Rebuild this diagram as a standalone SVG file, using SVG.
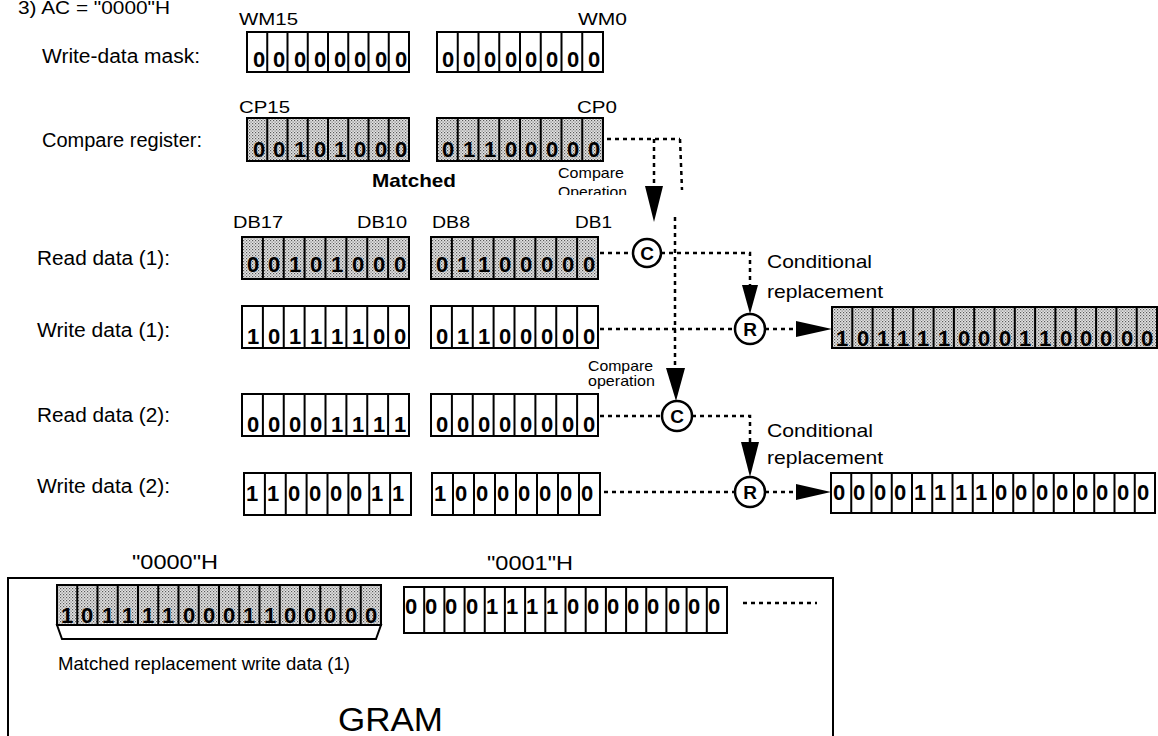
<svg xmlns="http://www.w3.org/2000/svg" width="1158" height="736" viewBox="0 0 1158 736">
<defs>
<pattern id="dots" width="3" height="3" patternUnits="userSpaceOnUse">
<rect width="3" height="3" fill="#e4e4e4"/>
<rect x="0" y="0" width="1.2" height="1.2" fill="#5a5a5a"/>
<rect x="1.5" y="1.5" width="1.2" height="1.2" fill="#7a7a7a"/>
</pattern>
<clipPath id="opclip"><rect x="540" y="160" width="120" height="35"/></clipPath>
<style>
.reg{fill:#fff;stroke:#000;stroke-width:2}
.sh{fill:url(#dots);stroke:#000;stroke-width:2}
.div{fill:none;stroke:#000;stroke-width:2}
.dig{font-family:"Liberation Sans",Arial,sans-serif;font-weight:bold;font-size:22px;text-anchor:middle;fill:#000}
.lbl{font-family:"Liberation Sans",Arial,sans-serif;font-size:20px;fill:#000}
.lbl19{font-family:"Liberation Sans",Arial,sans-serif;font-size:19px;fill:#000}
.sm{font-family:"Liberation Sans",Arial,sans-serif;font-size:15px;fill:#000}
.bit{font-family:"Liberation Sans",Arial,sans-serif;font-size:17px;fill:#000}
.dot{fill:none;stroke:#000;stroke-width:2.5;stroke-dasharray:4 4}
.circ{fill:#fff;stroke:#000;stroke-width:2.5}
.cl{font-family:"Liberation Sans",Arial,sans-serif;font-weight:bold;font-size:19px;text-anchor:middle}
.ah{fill:#000}
</style>
</defs>
<rect width="1158" height="736" fill="#fff"/>

<g id="labels">
<text class="lbl" style="font-size:18px" x="18" y="14" textLength="152" lengthAdjust="spacingAndGlyphs">3) AC = "0000"H</text>
<text class="lbl" x="42" y="63" textLength="158" lengthAdjust="spacingAndGlyphs">Write-data mask:</text>
<text class="lbl" x="42" y="147" textLength="160" lengthAdjust="spacingAndGlyphs">Compare register:</text>
<text class="lbl" x="37" y="265" textLength="133" lengthAdjust="spacingAndGlyphs">Read data (1):</text>
<text class="lbl" x="37" y="337" textLength="133" lengthAdjust="spacingAndGlyphs">Write data (1):</text>
<text class="lbl" x="37" y="422" textLength="133" lengthAdjust="spacingAndGlyphs">Read data (2):</text>
<text class="lbl" x="37" y="493" textLength="133" lengthAdjust="spacingAndGlyphs">Write data (2):</text>
<text class="bit" x="239" y="25" textLength="59" lengthAdjust="spacingAndGlyphs">WM15</text>
<text class="bit" x="578" y="25" textLength="49" lengthAdjust="spacingAndGlyphs">WM0</text>
<text class="bit" x="239" y="113" textLength="51" lengthAdjust="spacingAndGlyphs">CP15</text>
<text class="bit" x="577" y="113" textLength="40" lengthAdjust="spacingAndGlyphs">CP0</text>
<text class="bit" x="233" y="228" textLength="50" lengthAdjust="spacingAndGlyphs">DB17</text>
<text class="bit" x="357" y="228" textLength="50" lengthAdjust="spacingAndGlyphs">DB10</text>
<text class="bit" x="432" y="228" textLength="38" lengthAdjust="spacingAndGlyphs">DB8</text>
<text class="bit" x="575" y="228" textLength="37" lengthAdjust="spacingAndGlyphs">DB1</text>
<text x="372" y="187" style="font-family:'Liberation Sans',Arial,sans-serif;font-weight:bold;font-size:19px" textLength="84" lengthAdjust="spacingAndGlyphs">Matched</text>
<text class="sm" x="558" y="178" textLength="66" lengthAdjust="spacingAndGlyphs">Compare</text>
<text class="sm" x="558" y="197" textLength="69" lengthAdjust="spacingAndGlyphs" clip-path="url(#opclip)">Operation</text>
<text class="sm" x="588" y="371" textLength="65" lengthAdjust="spacingAndGlyphs">Compare</text>
<text class="sm" x="588" y="386" textLength="67" lengthAdjust="spacingAndGlyphs">operation</text>
<text class="lbl19" x="767" y="268" textLength="105" lengthAdjust="spacingAndGlyphs">Conditional</text>
<text class="lbl19" x="767" y="298" textLength="116" lengthAdjust="spacingAndGlyphs">replacement</text>
<text class="lbl19" x="767" y="437" textLength="106" lengthAdjust="spacingAndGlyphs">Conditional</text>
<text class="lbl19" x="767" y="464" textLength="116" lengthAdjust="spacingAndGlyphs">replacement</text>
</g>

<g id="mask-hi">
<rect class="reg" x="247" y="32" width="162" height="40"/>
<path class="div" d="M267.25 32V72M287.5 32V72M307.75 32V72M328 32V72M348.25 32V72M368.5 32V72M388.75 32V72"/>
<text class="dig" x="259 279 300 320 340 360 381 401" y="67">00000000</text>
</g>
<g id="mask-lo">
<rect class="reg" x="437" y="32" width="166" height="40"/>
<path class="div" d="M457.75 32V72M478.5 32V72M499.25 32V72M520 32V72M540.75 32V72M561.5 32V72M582.25 32V72"/>
<text class="dig" x="448 469 490 511 531 552 573 594" y="67">00000000</text>
</g>
<g id="cmp-hi">
<rect class="sh" x="247" y="118" width="162" height="43"/>
<path class="div" d="M267.25 118V161M287.5 118V161M307.75 118V161M328 118V161M348.25 118V161M368.5 118V161M388.75 118V161"/>
<text class="dig" x="259 279 300 320 340 360 381 401" y="157">00101000</text>
</g>
<g id="cmp-lo">
<rect class="sh" x="437" y="118" width="166" height="43"/>
<path class="div" d="M457.75 118V161M478.5 118V161M499.25 118V161M520 118V161M540.75 118V161M561.5 118V161M582.25 118V161"/>
<text class="dig" x="448 469 490 511 531 552 573 594" y="157">01100000</text>
</g>

<g id="rd1-hi">
<rect class="sh" x="242" y="237" width="167" height="42"/>
<path class="div" d="M262.9 237V279M283.75 237V279M304.6 237V279M325.5 237V279M346.4 237V279M367.25 237V279M388.1 237V279"/>
<text class="dig" x="253 274 295 316 337 358 379 400" y="272">00101000</text>
</g>
<g id="rd1-lo">
<rect class="sh" x="431" y="237" width="167" height="42"/>
<path class="div" d="M451.9 237V279M472.75 237V279M493.6 237V279M514.5 237V279M535.4 237V279M556.25 237V279M577.1 237V279"/>
<text class="dig" x="442 463 484 505 526 547 568 589" y="272">01100000</text>
</g>
<g id="wr1-hi">
<rect class="reg" x="242" y="306" width="167" height="42"/>
<path class="div" d="M262.9 306V348M283.75 306V348M304.6 306V348M325.5 306V348M346.4 306V348M367.25 306V348M388.1 306V348"/>
<text class="dig" x="253 274 295 316 337 358 379 400" y="344">10111100</text>
</g>
<g id="wr1-lo">
<rect class="reg" x="431" y="306" width="167" height="42"/>
<path class="div" d="M451.9 306V348M472.75 306V348M493.6 306V348M514.5 306V348M535.4 306V348M556.25 306V348M577.1 306V348"/>
<text class="dig" x="442 463 484 505 526 547 568 589" y="344">01100000</text>
</g>
<g id="rd2-hi">
<rect class="reg" x="242" y="394" width="167" height="42"/>
<path class="div" d="M262.9 394V436M283.75 394V436M304.6 394V436M325.5 394V436M346.4 394V436M367.25 394V436M388.1 394V436"/>
<text class="dig" x="253 274 295 316 337 358 379 400" y="432">00001111</text>
</g>
<g id="rd2-lo">
<rect class="reg" x="431" y="394" width="167" height="42"/>
<path class="div" d="M451.9 394V436M472.75 394V436M493.6 394V436M514.5 394V436M535.4 394V436M556.25 394V436M577.1 394V436"/>
<text class="dig" x="442 463 484 505 526 547 568 589" y="432">00000000</text>
</g>
<g id="wr2-hi">
<rect class="reg" x="244" y="473" width="167" height="42"/>
<path class="div" d="M264.9 473V515M285.75 473V515M306.6 473V515M327.5 473V515M348.4 473V515M369.25 473V515M390.1 473V515"/>
<text class="dig" x="252 273 294 315 336 356 377 398" y="501">11000011</text>
</g>
<g id="wr2-lo">
<rect class="reg" x="432" y="473" width="168" height="42"/>
<path class="div" d="M453 473V515M474 473V515M495 473V515M516 473V515M537 473V515M558 473V515M579 473V515"/>
<text class="dig" x="440 461 482 503 524 545 566 587" y="501">10000000</text>
</g>

<g id="result1">
<rect class="sh" x="832" y="307" width="325" height="41"/>
<path class="div" d="M852.3 307V348M872.6 307V348M892.9 307V348M913.25 307V348M933.6 307V348M953.9 307V348M974.2 307V348M994.5 307V348M1014.8 307V348M1035.1 307V348M1055.4 307V348M1075.75 307V348M1096.1 307V348M1116.4 307V348M1136.7 307V348"/>
<text class="dig" x="842 863 883 903 923 944 964 984 1005 1025 1045 1066 1086 1106 1127 1147" y="346">1011110001100000</text>
</g>
<g id="result2">
<rect class="reg" x="831" y="473" width="324" height="40"/>
<path class="div" d="M851.25 473V513M871.5 473V513M891.75 473V513M912 473V513M932.25 473V513M952.5 473V513M972.75 473V513M993 473V513M1013.25 473V513M1033.5 473V513M1053.75 473V513M1074 473V513M1094.25 473V513M1114.5 473V513M1134.75 473V513"/>
<text class="dig" x="839 859 880 900 920 940 961 981 1001 1021 1042 1062 1082 1102 1123 1143" y="500">0000111100000000</text>
</g>

<g id="cmp1">
<circle class="circ" cx="647" cy="253" r="14"/>
<text class="cl" x="647" y="260">C</text>
</g>
<g id="rep1">
<circle class="circ" cx="750" cy="329" r="15"/>
<text class="cl" x="750" y="336">R</text>
</g>
<g id="cmp2">
<circle class="circ" cx="677" cy="416" r="15"/>
<text class="cl" x="677" y="423">C</text>
</g>
<g id="rep2">
<circle class="circ" cx="750" cy="492" r="15"/>
<text class="cl" x="750" y="499">R</text>
</g>

<g id="connectors">
<path class="dot" d="M607 139H680"/>
<path class="dot" d="M654 139V187"/>
<path class="dot" d="M680 139L682 190"/>
<path class="dot" d="M675 217V370"/>
<path class="dot" d="M600 253H633"/>
<path class="dot" d="M661 253H750V286"/>
<path class="dot" d="M600 329H735"/>
<path class="dot" d="M765 329H796"/>
<path class="dot" d="M600 416H662"/>
<path class="dot" d="M692 416H750V443"/>
<path class="dot" d="M604 492H735"/>
<path class="dot" d="M765 492H796"/>
<polygon class="ah" points="645,186 663,186 654,222"/>
<polygon class="ah" points="742,285 758,285 750,314"/>
<polygon class="ah" points="666,368 685,368 676,401"/>
<polygon class="ah" points="741,442 759,442 750,477"/>
<polygon class="ah" points="796,321 796,337 832,329"/>
<polygon class="ah" points="796,484 796,500 831,492"/>
</g>

<g id="gram">
<rect x="8" y="578" width="825" height="190" fill="none" stroke="#000" stroke-width="2"/>
<text class="lbl" x="132" y="569" textLength="86" lengthAdjust="spacingAndGlyphs">"0000"H</text>
<text class="lbl" x="487" y="570" textLength="86" lengthAdjust="spacingAndGlyphs">"0001"H</text>
<text class="lbl" style="font-size:34px" x="338" y="731" textLength="105" lengthAdjust="spacingAndGlyphs">GRAM</text>
<text class="lbl" style="font-size:18.5px" x="58" y="670" textLength="292" lengthAdjust="spacingAndGlyphs">Matched replacement write data (1)</text>
</g>
<g id="gram-0000">
<polygon points="57,625 62,639 376,639 381,625" fill="#fff" stroke="#000" stroke-width="2"/>
<rect class="sh" x="57" y="585" width="324" height="40"/>
<path class="div" d="M77.25 585V625M97.5 585V625M117.75 585V625M138 585V625M158.25 585V625M178.5 585V625M198.75 585V625M219 585V625M239.25 585V625M259.5 585V625M279.75 585V625M300 585V625M320.25 585V625M340.5 585V625M360.75 585V625"/>
<text class="dig" x="67 87 108 128 148 168 189 209 229 249 270 290 310 330 351 371" y="623">1011110001100000</text>
</g>
<g id="gram-0001">
<rect class="reg" x="404" y="587" width="323" height="46"/>
<path class="div" d="M424.2 587V633M444.4 587V633M464.6 587V633M484.75 587V633M504.9 587V633M525.1 587V633M545.3 587V633M565.5 587V633M585.7 587V633M605.9 587V633M626.1 587V633M646.25 587V633M666.4 587V633M686.6 587V633M706.8 587V633"/>
<text class="dig" x="411 431 451 472 492 512 532 552 573 593 613 633 653 674 694 714" y="614">0000111100000000</text>
<path class="dot" d="M743 603H817" stroke-width="2"/>
</g>
</svg>
